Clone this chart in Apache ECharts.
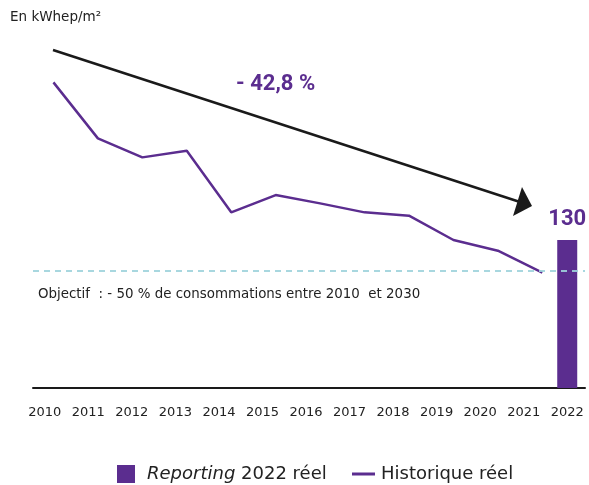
<!DOCTYPE html>
<html>
<head>
<meta charset="utf-8">
<script src="https://cdn.jsdelivr.net/npm/echarts@6/dist/echarts.min.js"></script>
<style>
  html, body { margin: 0; padding: 0; background: #fff; }
  #chart { width: 589px; height: 485px; }
</style>
</head>
<body>
<div id="chart"></div>
<script>
// Energy intensity, kWhep per m²
const years = ['2010', '2011', '2012', '2013', '2014', '2015', '2016',
               '2017', '2018', '2019', '2020', '2021', '2022'];
const historyYears = [2010, 2011, 2012, 2013, 2014, 2015, 2016, 2017, 2018, 2019, 2020, 2021];
const historyValues = [268.5, 219.3, 202.6, 208.4, 154.3, 169.5, 162.2, 154.3, 151.4, 130, 120.6, 101.3];
const reportingValues = [null, null, null, null, null, null, null, null, null, null, null, null, 130];
const objectiveValue = 102.8;
const reductionLabel = '- 42,8 %';
const objectiveLabel = 'Objectif  : - 50 % de consommations entre 2010  et 2030';
const unitLabel = 'En kWhep/m²';

const PURPLE = '#5b2d8f';
const TEXT = '#222222';
const FONT = '"DejaVu Sans", "Noto Sans", sans-serif';
const BOLD_FONT = 'Roboto, "Noto Sans", sans-serif';

const chart = echarts.init(document.getElementById('chart'), null, { renderer: 'canvas' });

const option = {
  animation: false,
  backgroundColor: '#ffffff',
  textStyle: { fontFamily: FONT },
  grid: [
    { left: 23, width: 569, top: 46.5, bottom: 97, containLabel: false },
    { left: 33, width: 552, top: 46.5, bottom: 97, containLabel: false }
  ],
  xAxis: [
    {
      type: 'category', gridIndex: 0, data: years, boundaryGap: true,
      axisLine: { show: false }, axisTick: { show: false },
      axisLabel: { color: TEXT, fontSize: 13, margin: 18, fontFamily: FONT }
    },
    {
      type: 'value', gridIndex: 1, min: 2009.54, max: 2021.96,
      axisLine: { show: true, onZero: false, lineStyle: { color: '#1a1a1a', width: 2 } },
      axisTick: { show: false }, axisLabel: { show: false }, splitLine: { show: false }
    }
  ],
  yAxis: [
    { type: 'value', gridIndex: 0, min: 0, max: 300, show: false },
    { type: 'value', gridIndex: 1, min: 0, max: 300, show: false }
  ],
  legend: [
    {
      data: [{ name: 'Reporting 2022 réel', icon: 'rect' }],
      left: 117, top: 465, itemWidth: 18, itemHeight: 18, padding: 0,
      formatter: () => '{i|Reporting}{n| 2022 réel}',
      textStyle: {
        color: TEXT, fontSize: 18, fontFamily: FONT,
        rich: {
          i: { fontStyle: 'italic', fontSize: 18, color: TEXT, fontFamily: FONT, padding: [0, 0, 0, 7] },
          n: { fontSize: 18, color: TEXT, fontFamily: FONT }
        }
      }
    },
    {
      data: [{ name: 'Historique réel', icon: 'rect' }],
      left: 352, top: 465, itemWidth: 23, itemHeight: 3, padding: 0,
      textStyle: { color: TEXT, fontSize: 18, fontFamily: FONT, padding: [0, 0, 0, 1] }
    }
  ],
  series: [
    {
      name: 'Reporting 2022 réel', type: 'bar',
      xAxisIndex: 0, yAxisIndex: 0,
      data: reportingValues, barWidth: 20,
      itemStyle: { color: PURPLE },
      label: {
        show: true, position: 'top', distance: 10,
        color: PURPLE, fontSize: 22, fontWeight: 'bold', fontFamily: BOLD_FONT
      },
      z: 2
    },
    {
      name: 'Historique réel', type: 'line',
      xAxisIndex: 1, yAxisIndex: 1,
      data: historyYears.map((y, i) => [y, historyValues[i]]),
      symbol: 'none',
      lineStyle: { color: PURPLE, width: 2.5 },
      itemStyle: { color: PURPLE },
      markLine: {
        silent: true, symbol: ['none', 'none'],
        label: { show: false },
        lineStyle: { color: '#9fd3dc', width: 2, type: [6, 5], opacity: 0.9 },
        data: [{ yAxis: objectiveValue }]
      },
      z: 3
    }
  ],
  graphic: [
    {
      type: 'text', left: 10, top: 10,
      style: { text: unitLabel, fill: TEXT, font: '13.5px ' + FONT }
    },
    {
      type: 'text', left: 38, top: 288,
      style: { text: objectiveLabel, fill: TEXT, font: '13.4px ' + FONT }
    },
    {
      type: 'text', left: 236, top: 73,
      style: { text: reductionLabel, fill: PURPLE, font: 'bold 22px ' + BOLD_FONT }
    },
    // Trend arrow
    {
      type: 'line', z: 10,
      shape: { x1: 53, y1: 50, x2: 520, y2: 202 },
      style: { stroke: '#1a1a1a', lineWidth: 2.5 }
    },
    {
      type: 'polygon', z: 10,
      shape: { points: [[522, 187], [532, 206], [513, 216]] },
      style: { fill: '#1a1a1a' }
    }
  ]
};

chart.setOption(option);
</script>
</body>
</html>
